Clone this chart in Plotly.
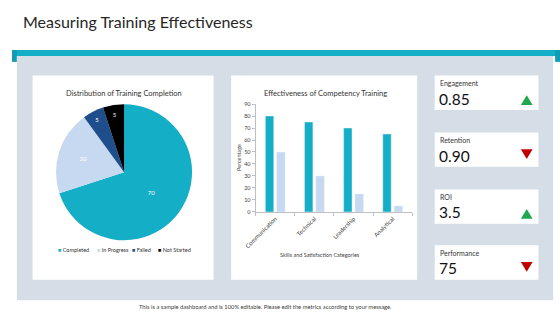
import plotly.graph_objects as go

W, H = 560, 315

# ---- data ----
title_text = "Measuring Training Effectiveness"
footer_text = "This is a sample dashboard and is 100% editable. Please edit the metrics according to your message."

pie_title = "Distribution of Training Completion"
pie_labels = ["Completed", "In Progress", "Failed", "Not Started"]
pie_values = [70, 20, 5, 5]
pie_colors = ["#14AEC6", "#C6D9F1", "#1F4E8C", "#000000"]

bar_title = "Effectiveness of Competency Training"
bar_categories = ["Communication", "Technical", "Leadership", "Analytical"]
effectiveness = [80, 75, 70, 65]
satisfaction = [50, 30, 15, 5]
y_ticks = [0, 10, 20, 30, 40, 50, 60, 70, 80, 90]
y_title = "Percentage"
x_title = "Skills and Satisfaction Categories"

kpi_labels = ["Engagement", "Retention", "ROI", "Performance"]
kpi_values = ["0.85", "0.90", "3.5", "75"]
kpi_trend = ["up", "down", "up", "down"]

FONT = "Lato"
TEAL = "#14AEC6"
LIGHT = "#C6D9F1"
PANEL = "#D5DEE7"


def px(x):
    return x / W


def py(y):
    return 1 - y / H


shapes = []
annotations = []


def rect(x0, y0, x1, y1, color):
    shapes.append(dict(type="rect", xref="paper", yref="paper",
                       x0=px(x0), x1=px(x1), y0=py(y1), y1=py(y0),
                       fillcolor=color, line=dict(width=0), layer="below"))


def tri(cx, y0, y1, w, color, up):
    # y0 top, y1 bottom (pixels)
    if up:
        pts = [(cx, y0), (cx + w / 2, y1), (cx - w / 2, y1)]
    else:
        pts = [(cx - w / 2, y0), (cx + w / 2, y0), (cx, y1)]
    path = "M " + " L ".join(f"{px(a):.5f},{py(b):.5f}" for a, b in pts) + " Z"
    shapes.append(dict(type="path", xref="paper", yref="paper", path=path,
                       fillcolor=color, line=dict(width=0)))


def text(x, y, s, size, color="#333333", xanchor="left", yanchor="middle", angle=0):
    annotations.append(dict(x=px(x), y=py(y), xref="paper", yref="paper", text=s,
                            showarrow=False, xanchor=xanchor, yanchor=yanchor,
                            textangle=angle, borderpad=0,
                            font=dict(family=FONT, size=size, color=color)))


# background elements
rect(0, 48, 560, 54, TEAL)
rect(0, 48, 5, 60, "#0E9DB3")
rect(555, 48, 560, 60, "#0E9DB3")
rect(5, 54, 553, 303, PANEL)
rect(21, 74, 206, 282, "#FFFFFF")
rect(224, 74, 414, 282, "#FFFFFF")
kpi_tops = [74, 132, 190, 247]
for t in kpi_tops:
    rect(432, t, 538, t + 35, "#FFFFFF")

text(10, 19, title_text, 16, "#262626")
text(259, 309, footer_text, 5.8, "#404040", xanchor="center")

# pie
text(114.5, 92, pie_title, 7.5, "#333333", xanchor="center")
fig = go.Figure()
fig.add_trace(go.Pie(
    labels=pie_labels, values=pie_values, sort=False, direction="clockwise",
    rotation=0, marker=dict(colors=pie_colors, line=dict(width=0)),
    textinfo="value", textposition="inside", insidetextorientation="horizontal",
    textfont=dict(family=FONT, size=6, color="#FFFFFF"),
    domain=dict(x=[px(45), px(184)], y=[py(242), py(103)]),
    showlegend=False, hoverinfo="label+value",
))
# custom compact legend
leg_x = [46, 86, 122, 148]
for lab, col, lx in zip(pie_labels, pie_colors, leg_x):
    text(lx, 252, f'<span style="color:{col}">■</span> {lab}', 5.5, "#333333")

# bars
fig.add_trace(go.Bar(x=bar_categories, y=effectiveness, marker_color=TEAL,
                     showlegend=False, xaxis="x", yaxis="y"))
fig.add_trace(go.Bar(x=bar_categories, y=satisfaction, marker_color=LIGHT,
                     showlegend=False, xaxis="x", yaxis="y"))
text(320, 92, bar_title, 7.5, "#333333", xanchor="center")
text(232, 158, y_title, 5.5, "#444444", xanchor="center", angle=-90)
text(315, 257, x_title, 5.5, "#444444", xanchor="center")

# KPI cards
for lab, val, tr, t in zip(kpi_labels, kpi_values, kpi_trend, kpi_tops):
    text(436, t + 8, lab, 7, "#333333")
    text(435, t + 23.5, val, 15.5, "#111111")
    if tr == "up":
        tri(526, t + 20, t + 30, 12, "#1FA84F", True)
    else:
        tri(526, t + 17, t + 27, 12, "#C00000", False)

fig.update_layout(
    width=W, height=H, margin=dict(l=0, r=0, t=0, b=0),
    paper_bgcolor="#FFFFFF", plot_bgcolor="rgba(0,0,0,0)",
    barmode="group", bargap=0.42, bargroupgap=0.26,
    shapes=shapes, annotations=annotations,
    xaxis=dict(domain=[px(249), px(409)], showgrid=False, zeroline=False,
               showline=True, linecolor="#BFBFBF", linewidth=1,
               ticks="outside", tickson="boundaries", ticklen=3, tickcolor="#BFBFBF",
               tickangle=-45, tickfont=dict(family=FONT, size=6, color="#444444"),
               fixedrange=True),
    yaxis=dict(domain=[py(213), py(103)], range=[0, 90], tickvals=y_ticks,
               showgrid=False, zeroline=False, showline=True, linecolor="#BFBFBF",
               ticks="outside", ticklen=3, tickcolor="#BFBFBF",
               tickfont=dict(family=FONT, size=5.5, color="#444444"), fixedrange=True),
    font=dict(family=FONT),
)

fig.write_html("out.html")
